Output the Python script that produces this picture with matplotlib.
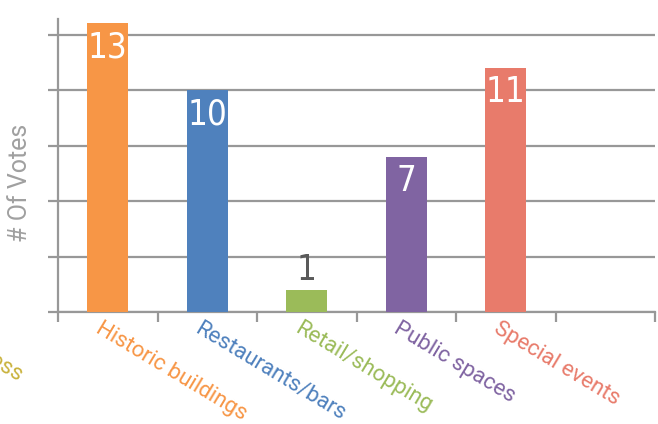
import matplotlib.pyplot as plt
import matplotlib.transforms as mtransforms

categories = ['Historic buildings', 'Restaurants/bars', 'Retail/shopping',
              'Public spaces', 'Special events']
votes = [13, 10, 1, 7, 11]
colors = ['#F79646', '#4F81BD', '#9BBB59', '#8064A2', '#E87B6B']
cut_label = 'Local business'
cut_color = '#C9B23C'
grid_vals = [2.5, 5, 7.5, 10, 12.5]

axis_gray = '#989898'

fig = plt.figure(figsize=(6.58, 4.24), dpi=100)
ax = fig.add_axes([58 / 658, 1 - 312 / 424, 597 / 658, 293 / 424])

x = list(range(len(categories)))
bars = ax.bar(x, votes, width=0.41, color=colors, zorder=3)

ax.set_xlim(-0.5, 5.5)
ax.set_ylim(0, 13.2)

# gridlines and axis styling
ax.set_yticks([0] + grid_vals)
ax.set_yticklabels([])
ax.yaxis.grid(True, color=axis_gray, linewidth=1.6, zorder=1)
ax.set_xticks([i - 0.5 for i in range(7)])
ax.set_xticklabels([])
ax.tick_params(axis='both', direction='out', length=7, width=1.6, color=axis_gray)
for side in ['top', 'right']:
    ax.spines[side].set_visible(False)
for side in ['left', 'bottom']:
    ax.spines[side].set_color(axis_gray)
    ax.spines[side].set_linewidth(1.6)

# value labels
num_font = dict(family='DejaVu Sans', fontstretch='condensed', fontsize=25)
for b, v in zip(bars, votes):
    cx = b.get_x() + b.get_width() / 2
    if v >= 3:
        ax.text(cx, v, str(v), ha='center', va='top', color='white', zorder=4,
                transform=ax.transData + mtransforms.ScaledTranslation(0, -7 / 100, fig.dpi_scale_trans),
                **num_font)
    else:
        ax.text(cx, v, str(v), ha='center', va='bottom', color='#5A5A5A', zorder=4,
                transform=ax.transData + mtransforms.ScaledTranslation(0, 3 / 100, fig.dpi_scale_trans),
                **num_font)

# rotated category labels
lab_font = dict(fontsize=16, family='Roboto')
lab_trans = mtransforms.blended_transform_factory(ax.transData, ax.transAxes)
lab_trans = lab_trans + mtransforms.ScaledTranslation(-5 / 100, -6 / 100, fig.dpi_scale_trans)
for i, (name, c) in enumerate(zip(categories, colors)):
    ax.text(i, 0, name, transform=lab_trans, rotation=-31, rotation_mode='anchor',
            ha='left', va='top', color=c, clip_on=False, **lab_font)

fig.text(18 / 658, 1 - 381 / 424, cut_label, rotation=-31, rotation_mode='anchor',
         ha='right', va='baseline', color=cut_color, **lab_font)

fig.text(20 / 658, 1 - 183 / 424, '# Of Votes', rotation=90, ha='center', va='center',
         color='#A0A0A0', fontsize=18, family='Roboto')

fig.savefig('out.png', dpi=100)
